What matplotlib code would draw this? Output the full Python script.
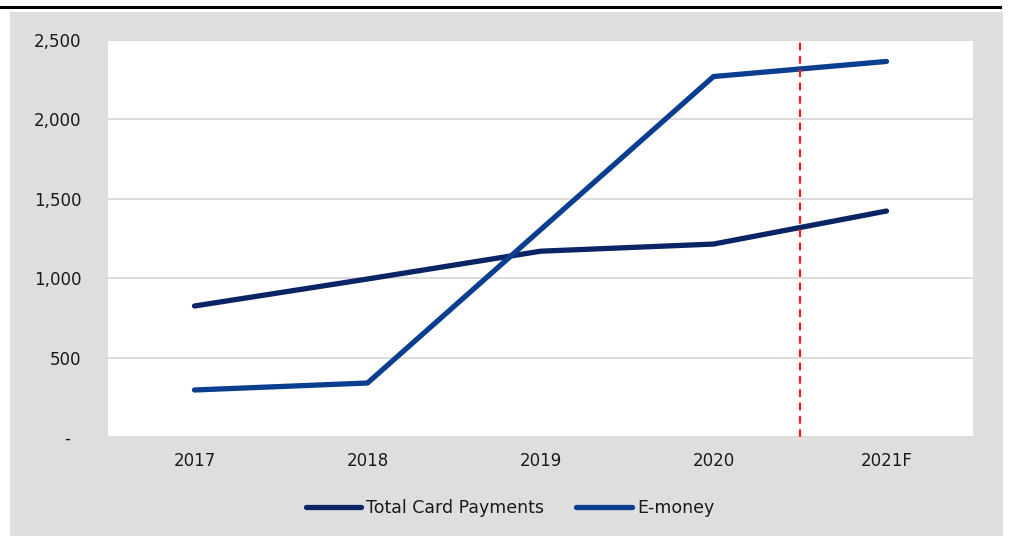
import numpy as np
import matplotlib.pyplot as plt
from matplotlib.patches import Rectangle
from matplotlib.lines import Line2D

plt.rcParams['font.family'] = ['DejaVu Sans']

# values (millions of transactions)
years = ['2017', '2018', '2019', '2020', '2021F']
card_payments = [825, 995, 1170, 1215, 1423]
e_money = [296, 340, 1305, 2270, 2365]
forecast_split = 3.5  # between 2020 and 2021F

card_color = '#0b2466'
emoney_color = '#0c3e8f'
panel_gray = '#dedede'

fig = plt.figure(figsize=(10.09, 5.36), dpi=100)

# grey chart panel and heading rule
fig.patches.append(Rectangle((10 / 1009, 0), 993 / 1009, 524 / 536,
                             transform=fig.transFigure, facecolor=panel_gray,
                             edgecolor='none', zorder=0))
fig.add_artist(Line2D([0, 1000 / 1009], [1 - 7 / 536, 1 - 7 / 536],
                      transform=fig.transFigure, color='black', lw=2.2))

ax = fig.add_axes([108 / 1009, 1 - 437 / 536, 865 / 1009, 397 / 536])
ax.set_facecolor('white')
ax.set_zorder(1)

x = np.arange(len(years))
ax.plot(x, card_payments, color=card_color, lw=3.8, solid_capstyle='round',
        solid_joinstyle='round', label='Total Card Payments')
ax.plot(x, e_money, color=emoney_color, lw=3.8, solid_capstyle='round',
        solid_joinstyle='round', label='E-money')
ax.axvline(forecast_split, ymin=0, ymax=0.995, color='#ff1a1a', lw=1.6,
           ls=(0, (3.5, 2.5)))

ax.set_xlim(-0.5, len(years) - 0.5)
ax.set_ylim(0, 2500)
ax.set_xticks(x)
ax.set_xticklabels(years)
ax.set_yticks(np.arange(0, 2501, 500))
ax.set_yticklabels(['-  ' if v == 0 else f'{v:,}' for v in range(0, 2501, 500)])
ax.grid(axis='y', color='#d9d9d9', lw=1.3)
ax.set_axisbelow(True)
ax.tick_params(length=0, labelsize=12, colors='#1a1a1a')
ax.tick_params(axis='y', pad=19)
ax.tick_params(axis='x', pad=11)
for s in ax.spines.values():
    s.set_visible(False)

leg = fig.legend(loc='center', bbox_to_anchor=(510 / 1009, 1 - 508 / 536),
                 ncol=2, frameon=False, fontsize=12.5, handlelength=3.2,
                 handletextpad=0.3, columnspacing=1.85)
for t in leg.get_texts():
    t.set_color('#1a1a1a')

plt.savefig('out.png', dpi=100)
